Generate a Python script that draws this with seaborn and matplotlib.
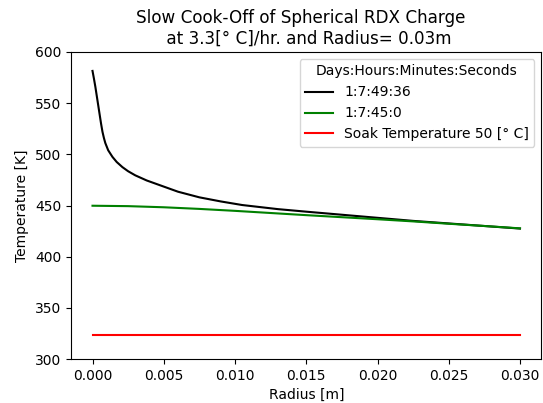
import matplotlib
matplotlib.use("Agg")
import matplotlib.pyplot as plt
import seaborn as sns
import pandas as pd

# Radial temperature profiles of the charge (radius in m, temperature in K)
radius_hot = [0.0, 0.0001, 0.0002, 0.0003, 0.0004, 0.0005, 0.0006, 0.0007,
              0.0008, 0.0009, 0.0011, 0.0014, 0.0017, 0.0021, 0.0025, 0.003,
              0.0038, 0.0048, 0.006, 0.0075, 0.009, 0.0105, 0.013, 0.015,
              0.0175, 0.020, 0.0225, 0.025, 0.0275, 0.030]
temp_hot = [581.5, 574.0, 566.0, 557.0, 548.0, 539.0, 530.0, 522.0,
            516.0, 511.0, 504.0, 497.5, 492.5, 487.5, 483.5, 479.5,
            474.5, 469.5, 463.5, 458.0, 454.0, 450.5, 446.5, 444.0,
            441.0, 438.0, 435.0, 432.5, 430.0, 427.5]

radius_cool = [0.0, 0.0025, 0.005, 0.0075, 0.010, 0.0125, 0.015, 0.0175,
               0.020, 0.0225, 0.025, 0.0275, 0.030]
temp_cool = [449.8, 449.4, 448.3, 446.7, 444.8, 442.7, 440.6, 438.6,
             436.6, 434.5, 432.2, 430.0, 427.7]

radius_soak = [0.0, 0.030]
temp_soak = [323.15, 323.15]

labels = ["1:7:49:36", "1:7:45:0", "Soak Temperature 50 [° C]"]
colors = ["black", "green", "red"]

frames = [
    pd.DataFrame({"r": radius_hot, "T": temp_hot, "time": labels[0]}),
    pd.DataFrame({"r": radius_cool, "T": temp_cool, "time": labels[1]}),
    pd.DataFrame({"r": radius_soak, "T": temp_soak, "time": labels[2]}),
]
df = pd.concat(frames, ignore_index=True)

fig, ax = plt.subplots(figsize=(5.43, 4.03), dpi=100)
sns.lineplot(data=df, x="r", y="T", hue="time", palette=colors,
             hue_order=labels, ax=ax, linewidth=1.5, sort=False)

ax.set_ylim(300, 600)
ax.set_xticks([0.0, 0.005, 0.010, 0.015, 0.020, 0.025, 0.030])
ax.set_xticklabels(["0.000", "0.005", "0.010", "0.015", "0.020", "0.025", "0.030"])
ax.set_xlabel("Radius [m]")
ax.set_ylabel("Temperature [K]")
ax.set_title("Slow Cook-Off of Spherical RDX Charge  \n at 3.3[° C]/hr. and Radius= 0.03m",
             fontsize=12.1)
ax.legend(title="Days:Hours:Minutes:Seconds", loc="upper right")

fig.subplots_adjust(left=0.131, right=0.997, top=0.871, bottom=0.109)
fig.savefig("out.png", dpi=100)
